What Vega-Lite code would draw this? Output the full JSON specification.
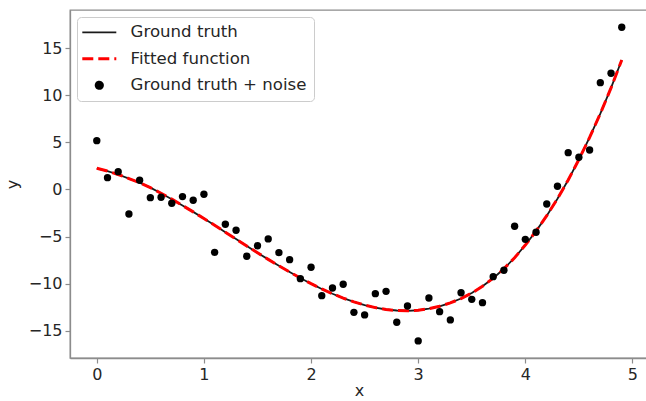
{
  "$schema": "https://vega.github.io/schema/vega-lite/v6.json",
  "autosize": "none",
  "padding": {"left": 70, "top": 10, "right": 0, "bottom": 43},
  "width": 578,
  "height": 348,
  "config": {
    "font": "DejaVu Sans",
    "view": {"stroke": "#8c8c8c", "strokeWidth": 1.3},
    "axis": {
      "grid": false,
      "domainColor": "#8c8c8c",
      "domainWidth": 1.3,
      "tickColor": "#8c8c8c",
      "tickWidth": 1.2,
      "tickSize": 5,
      "labelFontSize": 16,
      "labelColor": "#262626",
      "titleFontSize": 16,
      "titleFontWeight": "normal",
      "titleColor": "#262626",
      "labelPadding": 3
    }
  },
  "datasets": {
    "curve": [
      {"x": 0.0, "y": 2.25}, {"x": 0.1, "y": 1.95}, {"x": 0.2, "y": 1.59}, {"x": 0.3, "y": 1.16}, {"x": 0.4, "y": 0.72},
      {"x": 0.5, "y": 0.2}, {"x": 0.6, "y": -0.4}, {"x": 0.7, "y": -1.03}, {"x": 0.8, "y": -1.7}, {"x": 0.9, "y": -2.38},
      {"x": 1.0, "y": -3.08}, {"x": 1.1, "y": -3.8}, {"x": 1.2, "y": -4.53}, {"x": 1.3, "y": -5.27}, {"x": 1.4, "y": -6.0},
      {"x": 1.5, "y": -6.72}, {"x": 1.6, "y": -7.42}, {"x": 1.7, "y": -8.1}, {"x": 1.8, "y": -8.76}, {"x": 1.9, "y": -9.4},
      {"x": 2.0, "y": -10.0}, {"x": 2.1, "y": -10.56}, {"x": 2.2, "y": -11.07}, {"x": 2.3, "y": -11.53}, {"x": 2.4, "y": -11.94},
      {"x": 2.5, "y": -12.27}, {"x": 2.6, "y": -12.54}, {"x": 2.7, "y": -12.74}, {"x": 2.8, "y": -12.85}, {"x": 2.9, "y": -12.88},
      {"x": 3.0, "y": -12.82}, {"x": 3.1, "y": -12.66}, {"x": 3.2, "y": -12.4}, {"x": 3.3, "y": -12.04}, {"x": 3.4, "y": -11.58},
      {"x": 3.5, "y": -11.0}, {"x": 3.6, "y": -10.28}, {"x": 3.7, "y": -9.42}, {"x": 3.8, "y": -8.42}, {"x": 3.9, "y": -7.25},
      {"x": 4.0, "y": -5.9}, {"x": 4.1, "y": -4.42}, {"x": 4.2, "y": -2.78}, {"x": 4.3, "y": -0.98}, {"x": 4.4, "y": 1.0},
      {"x": 4.5, "y": 3.18}, {"x": 4.6, "y": 5.52}, {"x": 4.7, "y": 8.05}, {"x": 4.8, "y": 10.78}, {"x": 4.9, "y": 13.74}
    ],
    "noise": [
      {"x": 0.0, "y": 5.18}, {"x": 0.1, "y": 1.25}, {"x": 0.2, "y": 1.89}, {"x": 0.3, "y": -2.6}, {"x": 0.4, "y": 0.98},
      {"x": 0.5, "y": -0.87}, {"x": 0.6, "y": -0.83}, {"x": 0.7, "y": -1.46}, {"x": 0.8, "y": -0.76}, {"x": 0.9, "y": -1.15},
      {"x": 1.0, "y": -0.51}, {"x": 1.1, "y": -6.67}, {"x": 1.2, "y": -3.69}, {"x": 1.3, "y": -4.33}, {"x": 1.4, "y": -7.09},
      {"x": 1.5, "y": -5.97}, {"x": 1.6, "y": -5.25}, {"x": 1.7, "y": -6.71}, {"x": 1.8, "y": -7.45}, {"x": 1.9, "y": -9.47},
      {"x": 2.0, "y": -8.26}, {"x": 2.1, "y": -11.27}, {"x": 2.2, "y": -10.46}, {"x": 2.3, "y": -10.06}, {"x": 2.4, "y": -13.04},
      {"x": 2.5, "y": -13.32}, {"x": 2.6, "y": -11.06}, {"x": 2.7, "y": -10.81}, {"x": 2.8, "y": -14.1}, {"x": 2.9, "y": -12.37},
      {"x": 3.0, "y": -16.08}, {"x": 3.1, "y": -11.52}, {"x": 3.2, "y": -12.97}, {"x": 3.3, "y": -13.85}, {"x": 3.4, "y": -10.96},
      {"x": 3.5, "y": -11.66}, {"x": 3.6, "y": -12.02}, {"x": 3.7, "y": -9.26}, {"x": 3.8, "y": -8.58}, {"x": 3.9, "y": -3.91},
      {"x": 4.0, "y": -5.29}, {"x": 4.1, "y": -4.54}, {"x": 4.2, "y": -1.54}, {"x": 4.3, "y": 0.34}, {"x": 4.4, "y": 3.91},
      {"x": 4.5, "y": 3.42}, {"x": 4.6, "y": 4.19}, {"x": 4.7, "y": 11.34}, {"x": 4.8, "y": 12.34}, {"x": 4.9, "y": 17.22}
    ]
  },
  "encoding": {
    "x": {
      "field": "x", "type": "quantitative",
      "scale": {"domain": [-0.25, 5.145], "nice": false, "zero": false},
      "axis": {"values": [0, 1, 2, 3, 4, 5], "title": "x", "titlePadding": 0}
    },
    "y": {
      "field": "y", "type": "quantitative",
      "scale": {"domain": [-17.89, 19.05], "nice": false, "zero": false},
      "axis": {"values": [-15, -10, -5, 0, 5, 10, 15], "title": "y", "titlePadding": 8}
    }
  },
  "layer": [
    {
      "data": {"name": "curve"},
      "mark": {"type": "line", "strokeWidth": 1.8},
      "encoding": {
        "color": {
          "datum": "Ground truth",
          "scale": {
            "domain": ["Ground truth", "Fitted function", "Ground truth + noise"],
            "range": ["#1a1a1a", "#ff0000", "#000000"]
          },
          "legend": {
            "title": null,
            "orient": "top-left",
            "offset": 7,
            "labelFontSize": 16.6,
            "labelColor": "#262626",
            "labelLimit": 400,
            "labelOffset": 23,
            "symbolOffset": 7,
            "symbolSize": 1156,
            "rowPadding": 9.5,
            "padding": 7,
            "strokeColor": "#cccccc",
            "cornerRadius": 4,
            "fillColor": "rgba(255,255,255,0.85)",
            "encode": {
              "symbols": {
                "update": {
                  "shape": {"signal": "datum.value === 'Ground truth + noise' ? 'circle' : 'stroke'"},
                  "strokeDash": {"signal": "datum.value === 'Fitted function' ? [11, 5] : [1, 0]"},
                  "fill": {"signal": "datum.value === 'Ground truth + noise' ? '#000000' : 'transparent'"},
                  "stroke": {"signal": "datum.value === 'Ground truth + noise' ? 'transparent' : (datum.value === 'Fitted function' ? '#ff0000' : '#1a1a1a')"},
                  "strokeWidth": {"signal": "datum.value === 'Fitted function' ? 3 : 1.8"},
                  "size": {"signal": "datum.value === 'Ground truth + noise' ? 54 : 1156"},
                  "opacity": {"value": 1}
                }
              }
            }
          }
        }
      }
    },
    {
      "data": {"name": "curve"},
      "mark": {"type": "line", "strokeWidth": 3, "strokeDash": [11, 5]},
      "encoding": {"color": {"datum": "Fitted function"}}
    },
    {
      "data": {"name": "noise"},
      "mark": {"type": "point", "filled": true, "size": 54, "opacity": 1},
      "encoding": {"color": {"datum": "Ground truth + noise"}}
    }
  ]
}
